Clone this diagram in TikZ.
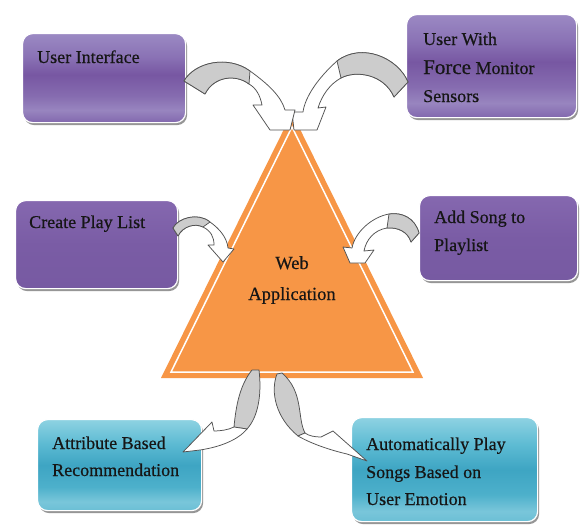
\documentclass[tikz,border=0pt]{standalone}
\usepackage{fontspec}
\setmainfont{Liberation Serif}
\newfontfamily\lserif[FakeBold=0.5]{Liberation Serif}
\usetikzlibrary{shadows}
\definecolor{orng}{HTML}{F79646}
\definecolor{txtc}{HTML}{161616}
\definecolor{pgTop}{HTML}{9B89C3}
\definecolor{pgUp}{HTML}{8A72B5}
\definecolor{pgMid}{HTML}{7757A2}
\definecolor{pgLow}{HTML}{866CB0}
\definecolor{pgBand}{HTML}{9885BF}
\definecolor{pgBot}{HTML}{8268AE}
\definecolor{pfTop}{HTML}{8568AF}
\definecolor{pfMid}{HTML}{7A5CA5}
\definecolor{pfBot}{HTML}{775AA2}
\definecolor{bgTop}{HTML}{8ED2E2}
\definecolor{bgUp}{HTML}{5DBBD3}
\definecolor{bgMid}{HTML}{3EA5C3}
\definecolor{bgLow}{HTML}{4DB0CB}
\definecolor{bgBand}{HTML}{79C6DA}
\definecolor{bgBot}{HTML}{6BBFD5}
\pgfdeclareverticalshading{purpgloss}{100bp}{color(0bp)=(pgBot); color(25bp)=(pgBot); color(32bp)=(pgBand); color(40bp)=(pgLow); color(52bp)=(pgMid); color(62bp)=(pgUp); color(75bp)=(pgTop); color(100bp)=(pgTop)}
\pgfdeclareverticalshading{purpflat}{100bp}{color(0bp)=(pfBot); color(25bp)=(pfBot); color(50bp)=(pfMid); color(75bp)=(pfTop); color(100bp)=(pfTop)}
\pgfdeclareverticalshading{bluegloss}{100bp}{color(0bp)=(bgBot); color(25bp)=(bgBot); color(30bp)=(bgBand); color(38bp)=(bgLow); color(50bp)=(bgMid); color(62bp)=(bgUp); color(75bp)=(bgTop); color(100bp)=(bgTop)}
\begin{document}
\begin{tikzpicture}[x=1pt,y=-1pt,
  box/.style={rounded corners=10pt, draw=white, line width=1.2pt, inner sep=0pt, anchor=north west,
    drop shadow={shadow xshift=1.5pt, shadow yshift=-2.5pt, fill=black!75, opacity=0.55}},
  purpgl/.style={box, shade, shading=purpgloss},
  purpfl/.style={box, shade, shading=purpflat},
  bluegl/.style={box, shade, shading=bluegloss},
  lbl/.style={anchor=base west, inner sep=0pt, text=txtc, font=\lserif\fontsize{18}{22}\selectfont},
  clbl/.style={anchor=base, inner sep=0pt, text=txtc, font=\lserif\fontsize{18.5}{22}\selectfont},
  arw/.style={draw=black!68, line width=0.75pt, line join=round, fill=white},
  argr/.style={draw=black!68, line width=0.75pt, line join=round, fill=black!20},
]
\useasboundingbox (0,0) rectangle (582,525);
\fill[white] (0,0) rectangle (582,525);

% central triangle
\coordinate (tA) at (292,113);
\coordinate (tL) at (161,378);
\coordinate (tR) at (423,378);
\coordinate (iA) at (292,127);
\coordinate (iL) at (171,372);
\coordinate (iR) at (413,372);
\fill[orng] (tA) -- (tL) -- (tR) -- cycle;
\draw[white, line width=1.5pt, line join=miter] (iA) -- (iL) -- (iR) -- cycle;

% boxes
\node[purpgl, minimum width=163pt, minimum height=89pt] (ui) at (22,33) {};
\node[purpgl, minimum width=170pt, minimum height=103pt] (force) at (406,14) {};
\node[purpfl, minimum width=162pt, minimum height=88pt] (create) at (15,200) {};
\node[purpfl, minimum width=158pt, minimum height=85pt] (addsong) at (419,195) {};
\node[bluegl, minimum width=164pt, minimum height=91pt] (attr) at (37,419) {};
\node[bluegl, minimum width=186pt, minimum height=104pt] (auto) at (351,417) {};

% arrow: Force sensors -> apex
\filldraw[arw] (408,82) .. controls (398,58) and (362,42) .. (337,61)
  .. controls (318,78) and (305,97) .. (303,112) -- (292,112) -- (294,130) -- (317,130) -- (326,107) -- (318,108)
  .. controls (322,95) and (330,84) .. (341,78) .. controls (356,70) and (384,74) .. (394,97) -- cycle;
\filldraw[argr] (408,82) .. controls (398,58) and (362,42) .. (337,61) -- (341,78)
  .. controls (356,70) and (384,74) .. (394,97) -- cycle;

% arrow: User Interface -> apex
\filldraw[arw] (184,81) .. controls (195,62) and (228,55) .. (250,71)
  .. controls (268,84) and (281,96) .. (285,110) -- (295,110) -- (290,130) -- (270,130) -- (253,105) -- (262,105)
  .. controls (260,95) and (256,88) .. (249,84) .. controls (236,74) and (214,76) .. (205,94) -- cycle;
\filldraw[argr] (184,81) .. controls (195,62) and (228,55) .. (250,71) -- (249,84)
  .. controls (236,74) and (214,76) .. (205,94) -- cycle;

% arrow: Create Play List -> triangle
\filldraw[arw] (173,228) .. controls (178,218) and (198,212) .. (210,222)
  .. controls (220,229) and (227,238) .. (228,248) -- (234,249) -- (223,262) -- (208,245) -- (214,245)
  .. controls (214,237) and (211,231) .. (203,227) .. controls (195,223) and (183,226) .. (178,236) -- cycle;
\filldraw[argr] (173,228) .. controls (178,218) and (198,212) .. (210,222) -- (203,227)
  .. controls (195,223) and (183,226) .. (178,236) -- cycle;

% arrow: Add Song -> triangle
\filldraw[arw] (419,233) .. controls (415,218) and (402,212) .. (389,214)
  .. controls (372,217) and (355,232) .. (352,248) -- (343,247) -- (350,263) -- (365,263) -- (374,250) -- (364,251)
  .. controls (366,240) and (374,230) .. (387,228) .. controls (398,227) and (408,232) .. (411,242) -- cycle;
\filldraw[argr] (419,233) .. controls (415,218) and (402,212) .. (389,214) -- (387,228)
  .. controls (398,227) and (408,232) .. (411,242) -- cycle;

% arrow: triangle -> Attribute Based
\filldraw[argr] (252,370) .. controls (240,385) and (236,405) .. (234,427) -- (247,429)
  .. controls (258,417) and (262,395) .. (259,370) -- cycle;
\filldraw[arw] (234,427) .. controls (228,430) and (220,431) .. (214,431) -- (212,422) -- (183,452) -- (200,450)
  .. controls (220,447) and (238,440) .. (247,429) -- cycle;

% arrow: triangle -> Automatically Play
\filldraw[argr] (277,374) .. controls (270,392) and (276,418) .. (298,436) -- (305,433)
  .. controls (297,418) and (304,392) .. (282,373) -- cycle;
\filldraw[arw] (298,436) .. controls (312,444) and (330,450) .. (347,454) -- (367,461) -- (333,431) -- (321,437)
  .. controls (315,437) and (309,436) .. (305,433) -- cycle;

% texts
\node[lbl] (uiT) at (37,63) {User Interface};
\node[lbl] (fA) at (423,45) {User With};
\node[lbl] (fB) at (423,74) {{\fontsize{21}{22}\selectfont Force} Monitor};
\node[lbl] (fC) at (423,102) {Sensors};
\node[lbl] (cpT) at (29,228) {Create Play List};
\node[lbl] (asA) at (434,223) {Add Song to};
\node[lbl] (asB) at (434,251) {Playlist};
\node[lbl] (abA) at (52,449) {Attribute Based};
\node[lbl] (abB) at (52,476) {Recommendation};
\node[lbl] (apA) at (366,450) {Automatically Play};
\node[lbl] (apB) at (366,478) {Songs Based on};
\node[lbl] (apC) at (366,505) {User Emotion};
\node[clbl] (web) at (292,269) {Web};
\node[clbl] (app) at (292,300) {Application};
\end{tikzpicture}
\end{document}
